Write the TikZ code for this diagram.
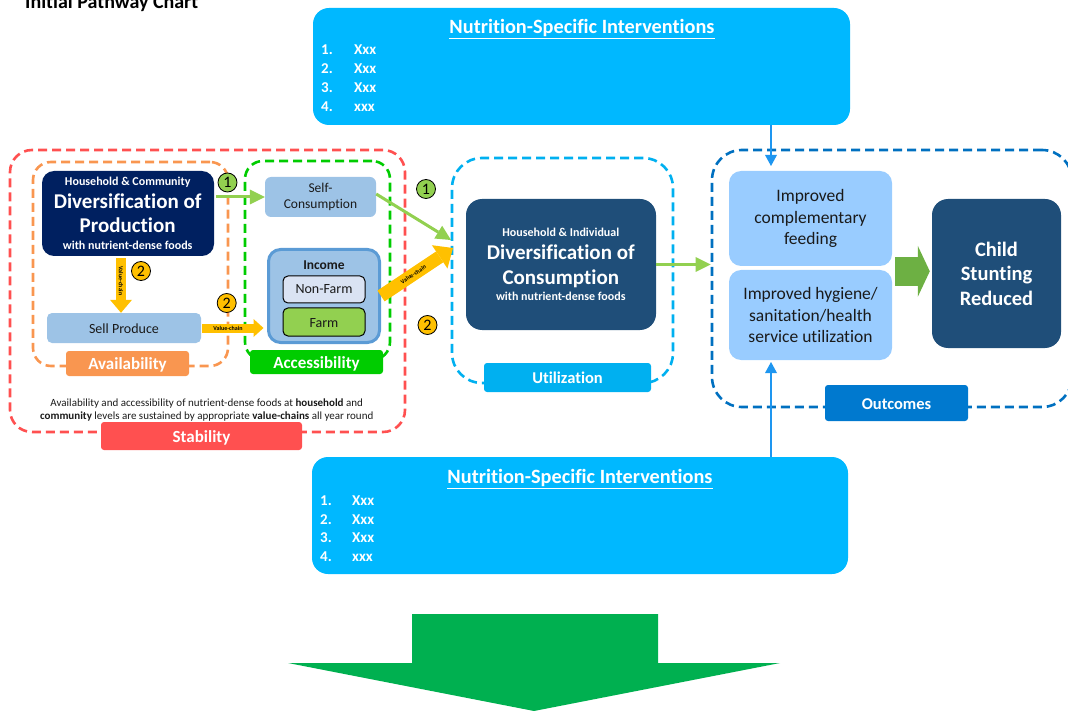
\documentclass[tikz,border=0pt]{standalone}
\usepackage{fontspec}
\setmainfont[Ligatures=NoCommon]{Carlito}
\usetikzlibrary{arrows.meta}

\definecolor{cNavy}{HTML}{002060}
\definecolor{cDeep}{HTML}{1F4E79}
\definecolor{cPale}{HTML}{9DC3E6}
\definecolor{cSky}{HTML}{00B8FF}
\definecolor{cUtil}{HTML}{00B0F0}
\definecolor{cOut}{HTML}{0070C0}
\definecolor{cOutTag}{HTML}{0079CF}
\definecolor{cLight}{HTML}{99CCFF}
\definecolor{cRed}{HTML}{FF5050}
\definecolor{cOrange}{HTML}{F99650}
\definecolor{cGreen}{HTML}{00CC00}
\definecolor{cYellow}{HTML}{FFC000}
\definecolor{cLime}{HTML}{92D050}
\definecolor{cBig}{HTML}{00B050}
\definecolor{cLink}{HTML}{1E96F0}
\definecolor{cRing}{HTML}{5B9BD5}
\definecolor{cLav}{HTML}{DAE3F3}
\definecolor{cFat}{HTML}{6DB043}
\definecolor{cInk}{HTML}{1A1A1A}

\newcommand\fsz[2]{\fontsize{#1}{#2}\selectfont}

\begin{document}
\begin{tikzpicture}[x=1pt,y=-1pt,
  zone/.style={draw=#1, line width=2.6pt, dash pattern=on 9pt off 5pt, inner sep=0pt},
  tag/.style={fill=#1, rounded corners=3pt, inner sep=0pt, text=white,
    font=\bfseries\fsz{17}{20}, text height=12pt, text depth=0pt},
  panel/.style={fill=cSky, rounded corners=16pt, inner sep=0pt},
  card/.style={fill=#1, inner sep=0pt, align=center},
  txt/.style={inner sep=0pt, anchor=base},
  item/.style={inner sep=0pt, anchor=base west, text=white, font=\bfseries\fsz{15}{17}},
  num/.style={circle, draw=black, line width=0.8pt, fill=#1, minimum size=19pt,
    inner sep=0pt, font=\fsz{16}{16}},
  link/.style={draw=cLime, line width=3pt, -{Triangle[length=15pt,width=15pt,line width=0pt]}},
  inflow/.style={draw=cLink, line width=2.5pt, -{Triangle[length=11pt,width=12pt,line width=0pt]}},
  vchain/.style={draw=cYellow, line width=#1},
  vtext/.style={inner sep=0pt, font=\bfseries\fsz{6}{7}},
]
\useasboundingbox (0,0) rectangle (1068,711);

% heading
\node[txt, anchor=base west, font=\bfseries\fsz{20}{24}] (title) at (25,9) {Initial Pathway Chart};

% dashed zones
\node[zone=cRed, rounded corners=22pt, minimum width=395pt, minimum height=282pt] (stab) at (207.5,291) {};
\node[zone=cOrange, rounded corners=18pt, minimum width=195pt, minimum height=204pt] (avail) at (130.5,264) {};
\node[zone=cGreen, rounded corners=18pt, minimum width=145pt, minimum height=199pt] (access) at (317.5,260.5) {};
\node[zone=cUtil, rounded corners=30pt, minimum width=221pt, minimum height=225pt] (util) at (562.5,270.5) {};
\node[zone=cOut, rounded corners=30pt, minimum width=360pt, minimum height=257pt] (outz) at (892,278.5) {};

% zone labels
\node[tag=cRed, minimum width=201pt, minimum height=28pt] (stabTag) at (201.5,436) {Stability};
\node[tag=cOrange, minimum width=123pt, minimum height=25pt] (availTag) at (127.5,363.5) {Availability};
\node[tag=cGreen, minimum width=133pt, minimum height=24pt] (accessTag) at (316.5,362) {Accessibility};
\node[tag=cUtil, minimum width=167pt, minimum height=29pt, font=\bfseries\fsz{16.5}{20}] (utilTag) at (567.5,377.5) {Utilization};
\node[tag=cOutTag, minimum width=143pt, minimum height=36pt, font=\bfseries\fsz{16.5}{20}] (outTag) at (896.5,403) {Outcomes};

% stability note
\node[txt, text=cInk, font=\fsz{11}{13}] (stabNoteA) at (206.7,406.5)
  {Availability and accessibility of nutrient-dense foods at \textbf{household} and};
\node[txt, text=cInk, font=\fsz{11}{13}] (stabNoteB) at (206.7,419)
  {\textbf{community} levels are sustained by appropriate \textbf{value-chains} all year round};

% production
\node[card=cNavy, rounded corners=12pt, minimum width=172pt, minimum height=85pt] (prod) at (128,213.5) {};
\node[txt, text=white, font=\bfseries\fsz{12}{14}] (prodA) at (127.7,185.5) {Household \& Community};
\node[txt, text=white, font=\bfseries\fsz{21}{25}] (prodB) at (127.7,208.3) {Diversification of};
\node[txt, text=white, font=\bfseries\fsz{21}{25}] (prodC) at (127.7,233) {Production};
\node[txt, text=white, font=\bfseries\fsz{12}{14}] (prodD) at (127.7,250) {with nutrient-dense foods};

\node[card=cPale, rounded corners=5pt, minimum width=154pt, minimum height=30pt,
  text=cInk, font=\fsz{14}{16}, text height=10.6pt, text depth=0pt] (sell) at (124,328) {Sell Produce};

% accessibility contents
\node[card=cPale, rounded corners=6pt, minimum width=111pt, minimum height=40pt,
  text=cInk, font=\fsz{13.5}{16.4}] (selfc) at (320.5,197) {Self-\\Consumption};
\node[card=cPale, draw=cRing, line width=3pt, rounded corners=12pt, minimum width=111pt,
  minimum height=93pt] (income) at (324,296) {};
\node[txt, text=cInk, font=\bfseries\fsz{13.5}{16}] (incomeT) at (324,269.3) {Income};
\node[card=cLav, draw=black, line width=1pt, rounded corners=5pt, minimum width=82pt, minimum height=27pt,
  text=cInk, font=\fsz{14}{16}, text height=9pt, text depth=0pt] (nonfarm) at (324,289.5) {Non-Farm};
\node[card=cLime, draw=black, line width=1pt, rounded corners=5pt, minimum width=82pt, minimum height=28pt,
  text=cInk, font=\fsz{14}{16}, text height=10.6pt, text depth=0pt] (farm) at (324,322) {Farm};

% consumption
\node[card=cDeep, rounded corners=16pt, minimum width=190pt, minimum height=131pt] (cons) at (561,264.5) {};
\node[txt, text=white, font=\bfseries\fsz{12}{14}] (consA) at (560.8,236.7) {Household \& Individual};
\node[txt, text=white, font=\bfseries\fsz{21}{25}] (consB) at (560.8,259.3) {Diversification of};
\node[txt, text=white, font=\bfseries\fsz{21}{25}] (consC) at (560.8,284) {Consumption};
\node[txt, text=white, font=\bfseries\fsz{12}{14}] (consD) at (560.8,300.7) {with nutrient-dense foods};

% outcomes
\node[card=cLight, rounded corners=12pt, minimum width=163pt, minimum height=95pt,
  text=cInk, font=\fsz{17.5}{21.7}] (feed) at (810.5,218.5) {Improved\\complementary\\feeding};
\node[card=cLight, rounded corners=12pt, minimum width=163pt, minimum height=90pt,
  text=cInk, font=\fsz{17.5}{21.5}] (hyg) at (810.5,315) {Improved hygiene/\\sanitation/health\\service utilization};
\node[card=cDeep, rounded corners=16pt, minimum width=129pt, minimum height=149pt,
  text=white, font=\bfseries\fsz{20.5}{24.5}] (child) at (996.5,273.5) {Child\\Stunting\\Reduced};

% intervention panels
\node[panel, minimum width=537pt, minimum height=117pt] (nsiTop) at (581.5,66.5) {};
\node[txt, text=white, font=\bfseries\fsz{20.3}{24}] (nsiTopHead) at (582,33.3) {\underline{Nutrition-Specific Interventions}};
\foreach \k/\t/\y in {1/Xxx/55,2/Xxx/74,3/Xxx/92.7,4/xxx/111.7}{
  \node[item] (nsiTopN\k) at (321,\y) {\k.};
  \node[item] (nsiTopT\k) at (354,\y) {\t};
}
\node[panel, minimum width=536pt, minimum height=117pt] (nsiBot) at (580,515.5) {};
\node[txt, text=white, font=\bfseries\fsz{20.3}{24}] (nsiBotHead) at (580,483.3) {\underline{Nutrition-Specific Interventions}};
\foreach \k/\t/\y in {1/Xxx/505,2/Xxx/524,3/Xxx/542.7,4/xxx/561.7}{
  \node[item] (nsiBotN\k) at (320,\y) {\k.};
  \node[item] (nsiBotT\k) at (352,\y) {\t};
}

% value-chain flows
\draw[vchain=10pt, -{Triangle[length=13pt,width=22pt,line width=0pt]}]
  ([xshift=-3pt,yshift=-2pt]sell.north |- prod.south) -- ([xshift=-3pt]sell.north)
  node[vtext, pos=0.42, rotate=-90] (vcDown) {Value-chain};
\draw[vchain=9pt, -{Triangle[length=10pt,width=18pt,line width=0pt]}]
  ([xshift=1pt]sell.east) -- ([xshift=-3.5pt]income.west |- sell.east)
  node[vtext, pos=0.42] (vcRight) {Value-chain};
\coordinate (utilB) at (453,248);
\draw[vchain=13pt, -{Triangle[length=16pt,width=28pt,line width=0pt]}]
  (income.east) -- (utilB)
  node[vtext, pos=0.45, sloped] (vcDiag) {Value-chain};

% self-consumption flows
\draw[link] ([xshift=2pt]prod.east |- selfc.west) -- (selfc.west);
\coordinate (utilA) at (451,240);
\draw[link] ([yshift=3pt]selfc.east) -- (utilA);
\draw[link] (cons.east) -- (cons.east -| outz.west);

% intervention inflows
\coordinate (fTop) at (771,166);
\coordinate (hBot) at (771,362);
\draw[inflow] (nsiTop.south -| fTop) -- (fTop);
\draw[inflow] (nsiBot.north -| hBot) -- (hBot);

% outcomes to stunting
\draw[draw=cFat, line width=29pt, -{Triangle[length=12pt,width=51pt,line width=0pt]}]
  ([xshift=3pt,yshift=-1.5pt]hyg.north east) -- ([xshift=-2pt,yshift=-1.5pt]child.west |- hyg.north east);

% pathway markers
\node[num=cLime] (c1a) at (227.5,182.5) {1};
\node[num=cLime] (c1b) at (426,189) {1};
\node[num=cYellow] (c2a) at (141,271) {2};
\node[num=cYellow] (c2b) at (226.7,303) {2};
\node[num=cYellow] (c2c) at (427.5,325) {2};

% large downward arrow
\fill[cBig] (412,614) -- (658,614) -- (658,663) -- (780,663) -- (534,711)
  -- (288,663) -- (412,663) -- cycle;
\end{tikzpicture}
\end{document}
